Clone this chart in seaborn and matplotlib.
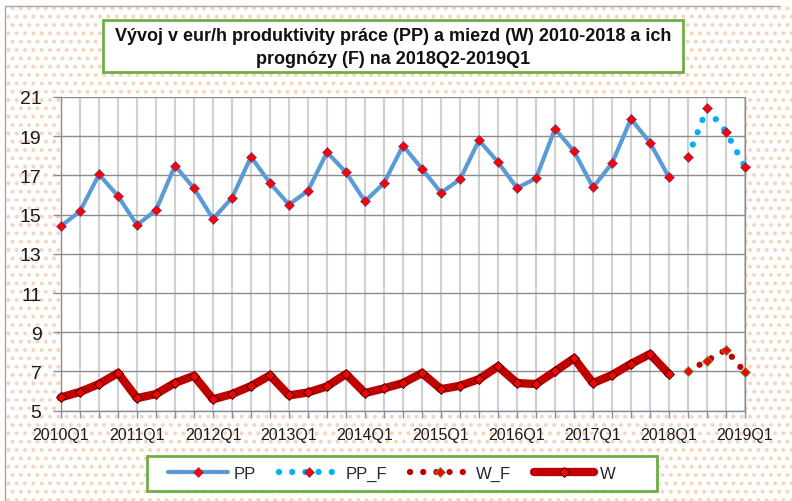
import matplotlib
matplotlib.use("Agg")
import matplotlib.pyplot as plt
from matplotlib.patches import Rectangle
from matplotlib.lines import Line2D
import seaborn as sns
import pandas as pd

# hodnoty odčítané z grafu (eur/h), štvrťroky 2010Q1 .. 2019Q1
pp = [14.42, 15.17, 17.05, 15.95, 14.47, 15.23, 17.50, 16.34, 14.79, 15.85,
      17.95, 16.61, 15.51, 16.22, 18.18, 17.16, 15.68, 16.61, 18.52, 17.34,
      16.12, 16.80, 18.79, 17.68, 16.36, 16.85, 19.38, 18.23, 16.39, 17.62,
      19.88, 18.67, 16.90]
pp_f = [17.95, 20.42, 19.23, 17.44]
w = [5.68, 5.96, 6.36, 6.92, 5.64, 5.85, 6.42, 6.78, 5.58, 5.85,
     6.26, 6.80, 5.78, 5.93, 6.24, 6.87, 5.90, 6.14, 6.41, 6.92,
     6.10, 6.27, 6.61, 7.26, 6.41, 6.36, 7.01, 7.67, 6.41, 6.82,
     7.39, 7.89, 6.87]
w_f = [7.02, 7.55, 8.11, 6.95]
year_labels = ["2010Q1", "2011Q1", "2012Q1", "2013Q1", "2014Q1",
               "2015Q1", "2016Q1", "2017Q1", "2018Q1", "2019Q1"]
y_ticks = [5, 7, 9, 11, 13, 15, 17, 19, 21]
title = "Vývoj v eur/h produktivity práce (PP) a miezd (W) 2010-2018 a ich\nprognózy (F) na 2018Q2-2019Q1"

n_hist = len(pp)
df_hist = pd.DataFrame({"q": range(n_hist), "PP": pp, "W": w})
df_fc = pd.DataFrame({"q": range(n_hist, n_hist + len(pp_f)), "PP_F": pp_f, "W_F": w_f})

sns.set_style("white")
plt.rcParams["font.family"] = ["Liberation Sans", "DejaVu Sans"]
plt.rcParams["hatch.linewidth"] = 1.6

fig = plt.figure(figsize=(7.92, 5.02), dpi=100)

# bodkovane pozadie
bg = Rectangle((5 / 792, 0), 1, 1 - 7 / 502, transform=fig.transFigure,
               facecolor="white", edgecolor="#F9D3BA", hatch="..", linewidth=0, zorder=-10)
fig.add_artist(bg)
fig.add_artist(Line2D([5 / 792, 5 / 792, 780 / 792], [0, 1 - 7 / 502, 1 - 7 / 502],
                      transform=fig.transFigure, color="#A6A6A6", lw=1))

ax = fig.add_axes([61 / 792, 1 - 411.7 / 502, 684 / 792, 313.7 / 502])
ax.set_facecolor("white")

dots = (0, (0.01, 2.1))
sns.lineplot(data=df_hist, x="q", y="PP", ax=ax, color="#5B9BD5", lw=3, marker="D",
             markersize=4.8, markerfacecolor="#FF0000", markeredgecolor="#4040A0",
             markeredgewidth=0.4, label="PP", zorder=3, clip_on=False)
sns.lineplot(data=df_fc, x="q", y="PP_F", ax=ax, color="#00B0F0", lw=4.5, linestyle=dots,
             dash_capstyle="round", marker="D", markersize=4.8, markerfacecolor="#FF0000",
             markeredgecolor="#4040A0", markeredgewidth=0.4, label="PP_F", zorder=3,
             clip_on=False)
sns.lineplot(data=df_fc, x="q", y="W_F", ax=ax, color="#C00000", lw=4.5, linestyle=dots,
             dash_capstyle="round", marker="D", markersize=4.8, markerfacecolor="#FF0000",
             markeredgecolor="#4CAF50", markeredgewidth=0.6, label="W_F", zorder=3,
             clip_on=False)
sns.lineplot(data=df_hist, x="q", y="W", ax=ax, color="#C00000", lw=6, marker="D",
             markersize=5, markerfacecolor="#FF0000", markeredgecolor="#200000",
             markeredgewidth=0.6, label="W", zorder=3, clip_on=False)

ax.set_xlim(0, 36)
ax.set_ylim(5, 21)
ax.set_xticks(range(0, 37, 4))
ax.set_xticklabels(year_labels)
ax.set_xticks(range(37), minor=True)
ax.set_yticks(y_ticks)
ax.set_xlabel("")
ax.set_ylabel("")

ax.grid(axis="x", which="both", color="#D0D0D0", lw=1.5, zorder=0)
ax.grid(axis="y", which="major", color="#8C8C8C", lw=1, zorder=0)
ax.set_axisbelow(True)
for s in ["left", "bottom", "right"]:
    ax.spines[s].set_visible(True)
    ax.spines[s].set_color("#8C8C8C")
    ax.spines[s].set_linewidth(1)
ax.spines["top"].set_visible(False)
ax.spines["bottom"].set_color("#7F8FA6")

ax.tick_params(axis="y", which="major", length=6, width=1, color="#8C8C8C",
               labelsize=14, pad=8, labelcolor="#1A1A1A", left=True)
ax.tick_params(axis="x", which="both", length=5, width=1, color="#7F8FA6",
               labelsize=11.5, pad=7, labelcolor="#1A1A1A", bottom=True)

# titulok v ramceku
fig.add_artist(Rectangle((103 / 792, 1 - 73 / 502), 580 / 792, 52 / 502,
                         transform=fig.transFigure, facecolor="white",
                         edgecolor="#70AD47", lw=2, zorder=5))
fig.text(393 / 792, 1 - 48 / 502, title, ha="center", va="center", fontsize=13,
         fontweight="bold", color="#111111", linespacing=1.42, zorder=6)

# ramcek legendy
fig.add_artist(Rectangle((147 / 792, 1 - 492 / 502), 510 / 792, 35 / 502,
                         transform=fig.transFigure, facecolor="white",
                         edgecolor="#70AD47", lw=2, zorder=5))

handles, labels = ax.get_legend_handles_labels()
ax.get_legend().remove()
order = ["PP", "PP_F", "W_F", "W"]
h_ord = [handles[labels.index(o)] for o in order]
leg = fig.legend(h_ord, order, loc="center", ncol=4,
                 bbox_to_anchor=(392 / 792, 1 - 474.5 / 502),
                 fontsize=12, handlelength=3.6, handletextpad=0.35, columnspacing=1.4,
                 frameon=False)
leg.set_zorder(6)

fig.savefig("out.png", dpi=100)
